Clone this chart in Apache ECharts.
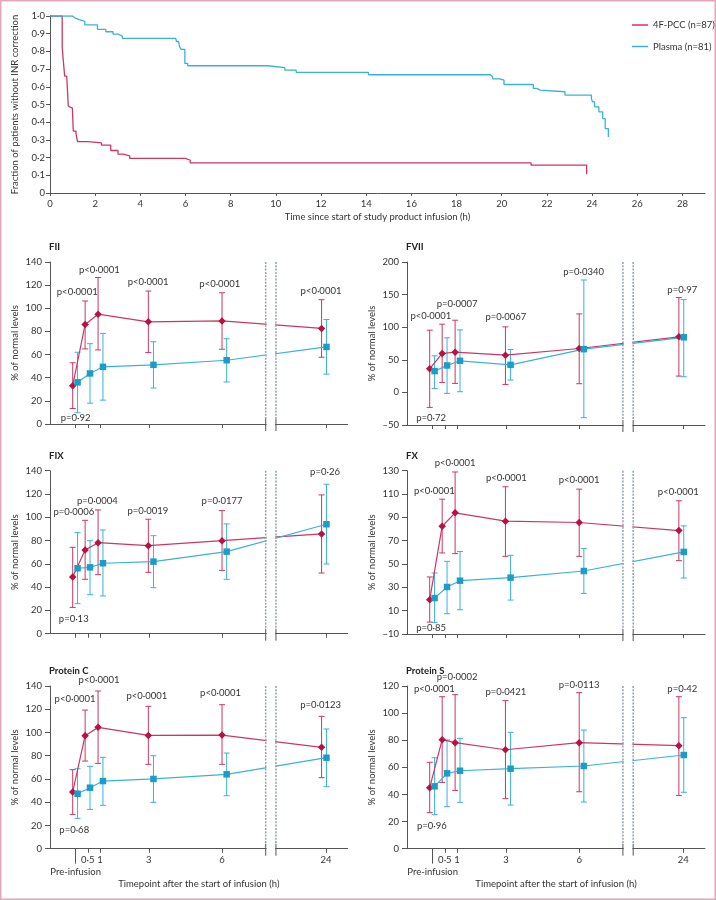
<!DOCTYPE html>
<html><head><meta charset="utf-8">
<script src="https://cdn.jsdelivr.net/npm/echarts@6/dist/echarts.min.js"></script>
<style>html,body{margin:0;padding:0;background:#fff}#c{width:716px;height:900px}</style>
</head><body><div id="c"></div><script>
// ---------- Kaplan-Meier data ----------
const KM_PCC_T = [0, 0.54, 0.58, 0.65, 0.74, 0.81, 0.88, 0.99, 1.03, 1.15, 1.22, 1.69, 2.28, 2.69, 3.01, 3.24, 3.53, 5.99, 6.21, 21.3, 23.76];
const KM_PCC_S = [1, 0.826, 0.76, 0.66, 0.65, 0.49, 0.48, 0.47, 0.35, 0.335, 0.29, 0.283, 0.27, 0.24, 0.22, 0.21, 0.196, 0.185, 0.17, 0.157, 0.106];
const KM_PL_T = [0, 1.0, 1.1, 1.3, 1.54, 2.1, 2.47, 2.79, 3.01, 3.2, 5.56, 5.6, 5.69, 5.74, 5.81, 5.97, 6.1, 9.63, 10.4, 10.9, 14.1, 19.5, 19.6, 19.9, 20.1, 21.4, 21.55, 21.7, 22.8, 23.97, 24.02, 24.11, 24.3, 24.47, 24.58, 24.72];
const KM_PL_S = [1, 0.99, 0.98, 0.97, 0.95, 0.925, 0.911, 0.898, 0.887, 0.874, 0.864, 0.856, 0.849, 0.826, 0.811, 0.732, 0.719, 0.708, 0.694, 0.681, 0.668, 0.657, 0.645, 0.638, 0.613, 0.591, 0.581, 0.572, 0.553, 0.534, 0.515, 0.487, 0.458, 0.42, 0.364, 0.317];
const KM_NAMES = ['4F-PCC (n=87)', 'Plasma (n=81)'];
const KM_XTICKS = [0, 2, 4, 6, 8, 10, 12, 14, 16, 18, 20, 22, 24, 26, 28];

// ---------- Coagulation factor panels ----------
const TIMEPOINTS = [0, 0.5, 1, 3, 6, 24];
const TIME_LABELS = ['Pre-infusion', '0·5', '1', '3', '6', '24'];

const FII_PCC_MEAN = [33.1, 86, 94.9, 88.3, 89.1, 82.6];
const FII_PCC_LO = [13.4, 64.9, 64, 61.7, 64.6, 57.7];
const FII_PCC_HI = [52.9, 106.3, 126.6, 114.9, 113.4, 107.4];
const FII_PL_MEAN = [36, 43.7, 49.4, 51.1, 55.1, 66.6];
const FII_PL_LO = [9.7, 18, 20.6, 31.1, 36.3, 43.1];
const FII_PL_HI = [62, 69.4, 78.3, 71.1, 73.7, 90.3];
const FII_P = ['p=0·92', 'p<0·0001', 'p<0·0001', 'p<0·0001', 'p<0·0001', 'p<0·0001'];

const FVII_PCC_MEAN = [36.2, 59.7, 61.7, 57.1, 67.3, 85.2];
const FVII_PCC_LO = [-23, 15.3, 13.8, 12.2, 13.3, 25];
const FVII_PCC_HI = [95.4, 104.6, 110.7, 100.5, 120.4, 145.4];
const FVII_PL_MEAN = [32.7, 41.3, 48.5, 42.3, 66.3, 84.5];
const FVII_PL_LO = [6.1, -1.5, 1, 18.9, -38.8, 24];
const FVII_PL_HI = [56.1, 83.7, 95.9, 65.8, 172.4, 142.3];
const FVII_P = ['p=0·72', 'p<0·0001', 'p=0·0007', 'p=0·0067', 'p=0·0340', 'p=0·97'];

const FIX_PCC_MEAN = [48.7, 71.9, 78.2, 75.6, 79.9, 85.7];
const FIX_PCC_LO = [22.6, 46.7, 50.7, 52.7, 54.4, 52.1];
const FIX_PCC_HI = [74.2, 97.4, 106.3, 98.3, 105.7, 119.2];
const FIX_PL_MEAN = [56.2, 57, 60.5, 61.9, 70.5, 94];
const FIX_PL_LO = [25.8, 33.5, 32.4, 39.5, 46.7, 59.9];
const FIX_PL_HI = [86.8, 79.9, 89.1, 84.2, 94.3, 128.4];
const FIX_P = ['p=0·13', 'p=0·0006', 'p=0·0004', 'p=0·0019', 'p=0·0177', 'p=0·26'];

const FX_PCC_MEAN = [19.4, 82.4, 93.9, 86.7, 85.6, 78.7];
const FX_PCC_LO = [0.2, 59.5, 58.9, 56.6, 56.6, 52.9];
const FX_PCC_HI = [38.9, 105.6, 128.9, 116.2, 114.2, 104.2];
const FX_PL_MEAN = [20.8, 30.3, 35.7, 38.3, 44, 60.4];
const FX_PL_LO = [-0.1, 7.4, 10.8, 19.1, 24.8, 38];
const FX_PL_HI = [42.3, 52.3, 60.7, 57.5, 63.2, 82.7];
const FX_P = ['p=0·85', 'p<0·0001', 'p<0·0001', 'p<0·0001', 'p<0·0001', 'p<0·0001'];

const PC_PCC_MEAN = [48.8, 97.2, 104.4, 97.5, 97.8, 87.2];
const PC_PCC_LO = [29.5, 75.4, 73.4, 72.6, 72.6, 61.1];
const PC_PCC_HI = [68, 119.3, 135.7, 122.5, 123.9, 113.9];
const PC_PL_MEAN = [47.3, 52.5, 58.2, 60, 64, 78.3];
const PC_PL_LO = [26.1, 33.8, 37.3, 39.9, 45.6, 53.4];
const PC_PL_HI = [68.8, 70.9, 78.6, 80, 82.3, 103];
const PC_P = ['p=0·68', 'p<0·0001', 'p<0·0001', 'p<0·0001', 'p<0·0001', 'p=0·0123'];

const PS_PCC_MEAN = [45, 80.4, 78.2, 73, 78.2, 76];
const PS_PCC_LO = [26.6, 48.9, 43, 36.9, 42, 39.3];
const PS_PCC_HI = [63.7, 112.1, 113.6, 109.2, 115.1, 112.1];
const PS_PL_MEAN = [46, 55.6, 57.5, 59, 61, 69.1];
const PS_PL_LO = [25.1, 31, 34.2, 32.2, 34.4, 41.6];
const PS_PL_HI = [67.1, 80.2, 81.4, 85.8, 87.5, 96.6];
const PS_P = ['p=0·96', 'p<0·0001', 'p=0·0002', 'p=0·0421', 'p=0·0113', 'p=0·42'];

// ---------- layout (annotation anchors: [y value, x pixel shift]) ----------
const FII_PLAB = [[5.1, 0], [113.7, -10.6], [133.4, -0.6], [122.9, -0.7], [120.9, -2.3], [115.1, -5]];
const FVII_PLAB = [[-39.8, -1.6], [117.3, -14], [135.2, 0], [115.8, 0], [184.7, 4.5], [156.6, -1]];
const FIX_PLAB = [[12.6, -1.9], [104.3, -14], [114.3, -2.6], [105.4, -1], [114, 0], [139.3, -1]];
const FX_PLAB = [[-5, -1.6], [112.8, -10.5], [136.3, -2], [124, 0.4], [122.3, 0], [112, -5]];
const PC_PLAB = [[16.4, -1.4], [128.8, -12.8], [145.4, -1], [131.7, -2], [134, -1.5], [123.6, -5.3]];
const PS_PLAB = [[16.7, -0.8], [117.8, -10.5], [126.4, 0], [115.8, 0], [120.7, 0], [117.8, -1]];
const DODGE_PCC = [-0.12, -0.11, -0.08, -0.02, 0, -0.18];
const DODGE_PL = [0.08, 0.09, 0.12, 0.19, 0.19, 0.02];

// broken time axis: hours 7.79..21.95 collapsed into the gap 7.79..8.21
const BREAK_FROM = 7.79, BREAK_TO = 8.21, BREAK_HOUR_END = 21.95;
function tpos(t) { return t <= BREAK_FROM ? t : BREAK_TO + (t - BREAK_HOUR_END); }
const TICK_POS = TIMEPOINTS.map(tpos);

const FONT = 'Lato';
const RED = '#cb3763', BLUE = '#3ab2d8', RED_M = '#b81242', BLUE_M = '#1c9dc8';
const AX = '#555', TXT = '#333', DOT = '#8ea4b4';

const PANELS = [
  { title: 'FII', pcc: [FII_PCC_MEAN, FII_PCC_LO, FII_PCC_HI], pl: [FII_PL_MEAN, FII_PL_LO, FII_PL_HI], p: FII_P, plab: FII_PLAB, y: [0, 140, 20], g: { left: 50, top: 262, width: 297.7, height: 162 }, bottom: false },
  { title: 'FVII', pcc: [FVII_PCC_MEAN, FVII_PCC_LO, FVII_PCC_HI], pl: [FVII_PL_MEAN, FVII_PL_LO, FVII_PL_HI], p: FVII_P, plab: FVII_PLAB, y: [-50, 200, 50], g: { left: 407, top: 262, width: 298, height: 163 }, bottom: false },
  { title: 'FIX', pcc: [FIX_PCC_MEAN, FIX_PCC_LO, FIX_PCC_HI], pl: [FIX_PL_MEAN, FIX_PL_LO, FIX_PL_HI], p: FIX_P, plab: FIX_PLAB, y: [0, 140, 20], g: { left: 50, top: 470.7, width: 297.7, height: 163 }, bottom: false },
  { title: 'FX', pcc: [FX_PCC_MEAN, FX_PCC_LO, FX_PCC_HI], pl: [FX_PL_MEAN, FX_PL_LO, FX_PL_HI], p: FX_P, plab: FX_PLAB, y: [-10, 130, 20], g: { left: 407, top: 470.7, width: 298, height: 163.3 }, bottom: false },
  { title: 'Protein C', pcc: [PC_PCC_MEAN, PC_PCC_LO, PC_PCC_HI], pl: [PC_PL_MEAN, PC_PL_LO, PC_PL_HI], p: PC_P, plab: PC_PLAB, y: [0, 140, 20], g: { left: 50, top: 686, width: 297.7, height: 162.7 }, bottom: true },
  { title: 'Protein S', pcc: [PS_PCC_MEAN, PS_PCC_LO, PS_PCC_HI], pl: [PS_PL_MEAN, PS_PL_LO, PS_PL_HI], p: PS_P, plab: PS_PLAB, y: [0, 120, 20], g: { left: 407, top: 686, width: 298, height: 162.7 }, bottom: true }
];

const option = {
  animation: false,
  textStyle: { fontFamily: FONT },
  grid: [], xAxis: [], yAxis: [], series: [], graphic: [],
  legend: {
    data: KM_NAMES, orient: 'vertical', left: 627, top: 15,
    icon: 'rect', itemWidth: 16, itemHeight: 1.5, itemGap: 11.5,
    textStyle: { fontSize: 9.5, color: TXT, fontFamily: FONT }
  }
};

// outer frame
option.graphic.push({ type: 'rect', silent: true, shape: { x: 0.75, y: 0.75, width: 714.5, height: 898.5 }, style: { fill: null, stroke: '#e3a6bb', lineWidth: 1.5 } });

// ---------- KM chart ----------
option.grid.push({ left: 50, top: 16, width: 655, height: 177 });
option.xAxis.push({
  type: 'value', gridIndex: 0, min: 0, max: 29, interval: 2,
  axisLine: { onZero: false, lineStyle: { color: AX } },
  axisTick: { customValues: KM_XTICKS, length: 3, lineStyle: { color: AX } },
  axisLabel: { customValues: KM_XTICKS, color: TXT, fontSize: 9.5, margin: 6 },
  splitLine: { show: false },
  name: 'Time since start of study product infusion (h)', nameLocation: 'middle', nameGap: 19,
  nameTextStyle: { color: TXT, fontSize: 9.5 }
});
option.yAxis.push({
  type: 'value', gridIndex: 0, min: 0, max: 1, interval: 0.1,
  axisLine: { show: true, onZero: false, lineStyle: { color: AX } },
  axisTick: { show: true, length: 4, lineStyle: { color: AX } },
  axisLabel: { color: TXT, fontSize: 9.5, margin: 5, formatter: v => v === 0 ? '0' : v.toFixed(1).replace('.', '·') },
  splitLine: { show: false },
  name: 'Fraction of patients without INR correction', nameLocation: 'middle', nameGap: 30,
  nameTextStyle: { color: TXT, fontSize: 9.5 }
});
[[KM_PCC_T, KM_PCC_S, RED], [KM_PL_T, KM_PL_S, BLUE]].forEach(([T, S, col], i) => {
  option.series.push({
    type: 'line', name: KM_NAMES[i], xAxisIndex: 0, yAxisIndex: 0, step: 'end', symbol: 'none',
    data: T.map((t, j) => [t, S[j]]),
    lineStyle: { color: col, width: 1.3 }, itemStyle: { color: col }
  });
});

// ---------- panels ----------
function fmtY(v) { return v < 0 ? '–' + Math.abs(v) : String(v); }
function tickLabel(v) {
  const i = TICK_POS.findIndex(p => Math.abs(p - v) < 1e-6);
  return i >= 0 ? TIME_LABELS[i] : '';
}
function errRender(color) {
  return function (params, api) {
    const x = api.value(0), lo = api.value(1), hi = api.value(2);
    const a = api.coord([x, hi]), b = api.coord([x, lo]);
    const st = { stroke: color, lineWidth: 1 };
    return {
      type: 'group', children: [
        { type: 'line', shape: { x1: a[0], y1: a[1], x2: b[0], y2: b[1] }, style: st },
        { type: 'line', shape: { x1: a[0] - 3, y1: a[1], x2: a[0] + 3, y2: a[1] }, style: st },
        { type: 'line', shape: { x1: b[0] - 3, y1: b[1], x2: b[0] + 3, y2: b[1] }, style: st }
      ]
    };
  };
}
function breakRender(params, api) {
  const cs = params.coordSys;
  const xa = api.coord([api.value(0), api.value(2)])[0];
  const xb = api.coord([api.value(1), api.value(2)])[0];
  const top = cs.y, bot = cs.y + cs.height;
  const dot = { stroke: DOT, lineWidth: 1.5, lineDash: [2, 1.3] };
  const cap = { stroke: AX, lineWidth: 1 };
  return {
    type: 'group', children: [
      { type: 'rect', shape: { x: xa + 0.8, y: top - 2, width: xb - xa - 1.6, height: cs.height + 4 }, style: { fill: '#fff' } },
      { type: 'line', shape: { x1: xa, y1: top, x2: xa, y2: bot - 5 }, style: dot },
      { type: 'line', shape: { x1: xb, y1: top, x2: xb, y2: bot - 5 }, style: dot },
      { type: 'line', shape: { x1: xa, y1: bot - 5, x2: xa, y2: bot + 7 }, style: cap },
      { type: 'line', shape: { x1: xb, y1: bot - 5, x2: xb, y2: bot + 7 }, style: cap }
    ]
  };
}
function pRender(texts) {
  return function (params, api) {
    const c = api.coord([api.value(0), api.value(1)]);
    return {
      type: 'text', x: c[0] + api.value(2), y: c[1],
      style: { text: texts[params.dataIndex], fill: TXT, font: '9.5px ' + FONT, align: 'center', verticalAlign: 'middle' }
    };
  };
}

PANELS.forEach((P, k) => {
  const gi = option.grid.length;
  option.grid.push(P.g);
  const xi = option.xAxis.length;
  const xMain = {
    type: 'value', gridIndex: gi, min: -1.05, max: 11.15,
    axisLine: { onZero: false, lineStyle: { color: AX } },
    axisTick: { customValues: TICK_POS, length: 4, lineStyle: { color: AX } },
    axisLabel: P.bottom ? { customValues: TICK_POS.slice(1), formatter: tickLabel, color: TXT, fontSize: 9.5, margin: 6 } : { show: false },
    splitLine: { show: false }
  };
  if (P.bottom) {
    xMain.name = 'Timepoint after the start of infusion (h)';
    xMain.nameLocation = 'middle';
    xMain.nameGap = 30;
    xMain.nameTextStyle = { color: TXT, fontSize: 9.5 };
  }
  option.xAxis.push(xMain);
  if (P.bottom) {
    option.xAxis.push({
      type: 'value', gridIndex: gi, min: -1.05, max: 11.15, position: 'bottom',
      axisLine: { show: false, onZero: false },
      axisTick: { show: true, customValues: [TICK_POS[0]], length: 15, lineStyle: { color: AX } },
      axisLabel: { customValues: [TICK_POS[0]], formatter: tickLabel, color: TXT, fontSize: 9.5, margin: 18 },
      splitLine: { show: false }
    });
  }
  const yi = option.yAxis.length;
  option.yAxis.push({
    type: 'value', gridIndex: gi, min: P.y[0], max: P.y[1], interval: P.y[2],
    axisLine: { show: true, onZero: false, lineStyle: { color: AX } },
    axisTick: { show: true, length: 5, lineStyle: { color: AX } },
    axisLabel: { color: TXT, fontSize: 9.5, margin: 8, formatter: fmtY },
    splitLine: { show: false },
    name: '% of normal levels', nameLocation: 'middle', nameGap: 30,
    nameTextStyle: { color: TXT, fontSize: 9.5 }
  });
  // title
  option.graphic.push({ type: 'text', left: P.g.left - 1, top: P.g.top - 20, silent: true,
    style: { text: P.title, font: 'bold 9.5px ' + FONT, fill: '#222' } });

  const groups = [
    { d: P.pcc, dodge: DODGE_PCC, line: RED, mk: RED_M, sym: 'diamond', size: 7.5 },
    { d: P.pl, dodge: DODGE_PL, line: BLUE, mk: BLUE_M, sym: 'rect', size: 6.5 }
  ];
  groups.forEach(G => {
    option.series.push({
      type: 'custom', xAxisIndex: xi, yAxisIndex: yi, z: 2, silent: true,
      renderItem: errRender(G.line), encode: { x: 0, y: [1, 2] },
      data: TIMEPOINTS.map((t, j) => [tpos(t) + G.dodge[j], G.d[1][j], G.d[2][j]])
    });
  });
  groups.forEach(G => {
    option.series.push({
      type: 'line', xAxisIndex: xi, yAxisIndex: yi, z: 3, silent: true,
      symbol: G.sym, symbolSize: G.size, showSymbol: true,
      data: TIMEPOINTS.map((t, j) => [tpos(t) + G.dodge[j], G.d[0][j]]),
      lineStyle: { color: G.line, width: 1.2 }, itemStyle: { color: G.mk }
    });
  });
  // break cover + dotted lines
  option.series.push({
    type: 'custom', xAxisIndex: xi, yAxisIndex: yi, z: 5, silent: true,
    renderItem: breakRender, encode: { x: [0, 1], y: 2 },
    data: [[BREAK_FROM, BREAK_TO, P.y[0]]]
  });
  // p-values
  option.series.push({
    type: 'custom', xAxisIndex: xi, yAxisIndex: yi, z: 6, silent: true, clip: false,
    renderItem: pRender(P.p), encode: { x: 0, y: 1 },
    data: TIMEPOINTS.map((t, j) => [tpos(t), P.plab[j][0], P.plab[j][1]])
  });
});

const chart = echarts.init(document.getElementById('c'));
chart.setOption(option);
</script></body></html>
